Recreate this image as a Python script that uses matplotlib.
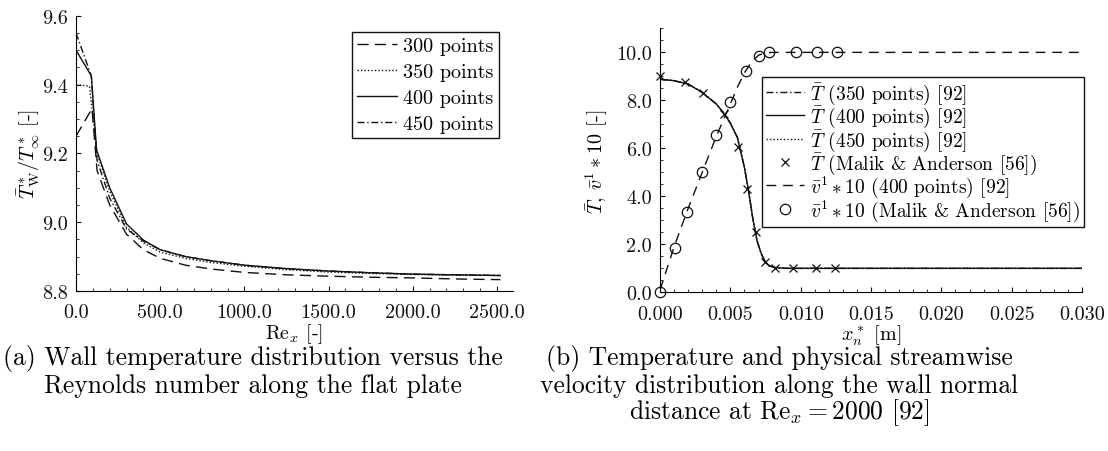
import matplotlib
matplotlib.use("Agg")
import matplotlib.pyplot as plt
from matplotlib.ticker import MultipleLocator, FormatStrFormatter

plt.rcParams["font.family"] = "serif"
plt.rcParams["font.serif"] = ["cmr10"]
plt.rcParams["mathtext.fontset"] = "cm"
plt.rcParams["axes.formatter.use_mathtext"] = True
plt.rcParams["axes.unicode_minus"] = False

# (a) wall temperature vs Re_x
re_300 = [0, 95, 125, 200, 300, 400, 500, 650, 800, 1000, 1250, 1500, 1750, 2000, 2250, 2520]
tw_300 = [9.25, 9.33, 9.15, 9.05, 8.965, 8.92, 8.895, 8.875, 8.864, 8.854, 8.847, 8.843, 8.840, 8.838, 8.835, 8.833]
re_350 = [0, 80, 125, 200, 300, 400, 500, 650, 800, 1000, 1250, 1500, 1750, 2000, 2250, 2520]
tw_350 = [9.40, 9.395, 9.20, 9.09, 8.985, 8.94, 8.913, 8.895, 8.883, 8.872, 8.862, 8.855, 8.851, 8.848, 8.846, 8.845]
re_400 = [0, 91, 122, 200, 300, 400, 500, 650, 800, 1000, 1250, 1500, 1750, 2000, 2250, 2520]
tw_400 = [9.50, 9.425, 9.21, 9.10, 8.995, 8.948, 8.92, 8.90, 8.888, 8.875, 8.865, 8.858, 8.853, 8.849, 8.847, 8.845]
re_450 = [0, 91, 125, 200, 300, 400, 500, 650, 800, 1000, 1250, 1500, 1750, 2000, 2250, 2520]
tw_450 = [9.55, 9.425, 9.18, 9.07, 8.98, 8.945, 8.92, 8.90, 8.888, 8.875, 8.865, 8.858, 8.853, 8.849, 8.847, 8.845]

# (b) profiles at Re_x = 2000
xn_T = [0, 0.001, 0.002, 0.003, 0.004, 0.0045, 0.005, 0.0055, 0.006, 0.0063, 0.0066,
        0.0069, 0.0072, 0.0075, 0.0078, 0.0082, 0.009, 0.01, 0.03]
T_350 = [8.88, 8.82, 8.68, 8.33, 7.85, 7.49, 7.05, 6.45, 5.2, 4.2, 3.05,
         2.15, 1.6, 1.25, 1.1, 1.03, 1.0, 1.0, 1.0]
T_400 = [8.88, 8.82, 8.68, 8.33, 7.85, 7.49, 7.05, 6.45, 5.2, 4.2, 3.05,
         2.15, 1.6, 1.25, 1.1, 1.03, 1.0, 1.0, 1.0]
T_450 = [8.88, 8.82, 8.68, 8.33, 7.85, 7.49, 7.05, 6.45, 5.2, 4.2, 3.05,
         2.15, 1.6, 1.25, 1.1, 1.03, 1.0, 1.0, 1.0]
xn_T_ma = [0, 0.00175, 0.00305, 0.00455, 0.00555, 0.0062, 0.00683, 0.00745, 0.0082, 0.00945, 0.0111, 0.01245]
T_ma = [9.0, 8.77, 8.3, 7.45, 6.07, 4.31, 2.51, 1.26, 1.0, 1.0, 1.0, 1.0]
xn_v = [0, 0.0005, 0.001, 0.002, 0.003, 0.004, 0.005, 0.0055, 0.006, 0.0065, 0.007, 0.0075, 0.008, 0.009, 0.03]
v_400 = [0.1, 1.0, 1.9, 3.5, 5.0, 6.5, 7.85, 8.55, 9.15, 9.6, 9.88, 9.98, 10.0, 10.0, 10.0]
xn_v_ma = [0, 0.00105, 0.00195, 0.003, 0.00395, 0.005, 0.006125, 0.00705, 0.00775, 0.00965, 0.01115, 0.01255]
v_ma = [0.0, 1.84, 3.36, 5.02, 6.54, 7.95, 9.23, 9.86, 10.0, 10.0, 10.0, 10.0]

fs = 14.5
k = "#111111"

fig = plt.figure(figsize=(11.08, 4.52), dpi=100)

def style(ax):
    ax.spines["top"].set_visible(False)
    ax.spines["right"].set_visible(False)
    ax.tick_params(which="both", direction="in", labelsize=fs, colors=k)
    ax.tick_params(which="major", length=3.5, pad=6)
    ax.tick_params(which="minor", length=2.2)
    ax.tick_params(axis="x", which="major", pad=9)

# ---- (a)
ax1 = fig.add_axes([0.0686, 0.354, 0.3944, 0.609])
ax1.plot(re_300, tw_300, color=k, lw=1.0, dashes=(8, 4.5), label="300 points")
ax1.plot(re_350, tw_350, color=k, lw=1.0, dashes=(1, 1.5), label="350 points")
ax1.plot(re_400, tw_400, color=k, lw=1.0, label="400 points")
ax1.plot(re_450, tw_450, color=k, lw=1.0, dashes=(5, 2, 1, 2), label="450 points")
ax1.set_xlim(0, 2595)
ax1.set_ylim(8.8, 9.6)
ax1.xaxis.set_major_locator(MultipleLocator(500))
ax1.xaxis.set_minor_locator(MultipleLocator(100))
ax1.yaxis.set_major_locator(MultipleLocator(0.2))
ax1.yaxis.set_minor_locator(MultipleLocator(0.05))
ax1.xaxis.set_major_formatter(FormatStrFormatter("%.1f"))
ax1.yaxis.set_major_formatter(FormatStrFormatter("%.1f"))
style(ax1)
ax1.set_xlabel(r"$\mathrm{Re}_x$ [-]", fontsize=fs, labelpad=0)
ax1.set_ylabel(r"$\bar{T}^*_{\mathrm{W}}/T^*_{\infty}$ [-]", fontsize=fs, labelpad=0)
leg1 = ax1.legend(loc="upper right", bbox_to_anchor=(0.967, 0.94), fontsize=fs,
                  handlelength=2.0, handletextpad=0.3, labelspacing=0.38,
                  borderpad=0.25, borderaxespad=0, fancybox=False, framealpha=1)
leg1.get_frame().set_edgecolor(k)
leg1.get_frame().set_linewidth(1.0)

# ---- (b)
ax2 = fig.add_axes([0.5957, 0.351, 0.3809, 0.584])
ax2.plot(xn_T, T_350, color=k, lw=1.0, dashes=(5, 2, 1, 2), label=r"$\bar{T}$ (350 points) [92]")
ax2.plot(xn_T, T_400, color=k, lw=1.0, label=r"$\bar{T}$ (400 points) [92]")
ax2.plot(xn_T, T_450, color=k, lw=1.0, dashes=(1, 1.5), label=r"$\bar{T}$ (450 points) [92]")
ax2.plot(xn_T_ma, T_ma, ls="none", marker="x", ms=6, mew=0.9, color=k, clip_on=False,
         label=r"$\bar{T}$ (Malik & Anderson [56])")
ax2.plot(xn_v, v_400, color=k, lw=1.0, dashes=(7, 5), label=r"$\bar{v}^1 * 10$ (400 points) [92]")
ax2.plot(xn_v_ma, v_ma, ls="none", marker="o", ms=7.5, mew=0.9, mfc="none", color=k, clip_on=False,
         label=r"$\bar{v}^1 * 10$ (Malik & Anderson [56])")
ax2.set_xlim(0, 0.030)
ax2.set_ylim(0, 11.0)
ax2.xaxis.set_major_locator(MultipleLocator(0.005))
ax2.xaxis.set_minor_locator(MultipleLocator(0.001))
ax2.yaxis.set_major_locator(MultipleLocator(2.0))
ax2.yaxis.set_minor_locator(MultipleLocator(0.5))
ax2.xaxis.set_major_formatter(FormatStrFormatter("%.3f"))
ax2.yaxis.set_major_formatter(FormatStrFormatter("%.1f"))
style(ax2)
ax2.set_xlabel(r"$x_n^*$ [m]", fontsize=fs, labelpad=0)
ax2.set_ylabel(r"$\bar{T}$, $\bar{v}^1 * 10$ [-]", fontsize=fs, labelpad=4)
leg2 = ax2.legend(loc="upper right", bbox_to_anchor=(1.005, 0.816), fontsize=14,
                  handlelength=2.0, handletextpad=0.3, labelspacing=-0.1,
                  borderpad=0.2, borderaxespad=0, fancybox=False, framealpha=1)
leg2.get_frame().set_edgecolor(k)
leg2.get_frame().set_linewidth(1.0)

# captions
cap = 18.4
fig.text(0.2285, 1 - 359 / 452, "(a) Wall temperature distribution versus the", ha="center", va="center", fontsize=cap)
fig.text(0.2285, 1 - 386 / 452, "Reynolds number along the flat plate", ha="center", va="center", fontsize=cap)
fig.text(0.703, 1 - 359 / 452, "(b) Temperature and physical streamwise", ha="center", va="center", fontsize=cap)
fig.text(0.703, 1 - 386 / 452, "velocity distribution along the wall normal", ha="center", va="center", fontsize=cap)
fig.text(0.703, 1 - 413 / 452, r"distance at $\mathrm{Re}_x = 2000$ [92]", ha="center", va="center", fontsize=cap)

fig.savefig("out.png", dpi=100)
